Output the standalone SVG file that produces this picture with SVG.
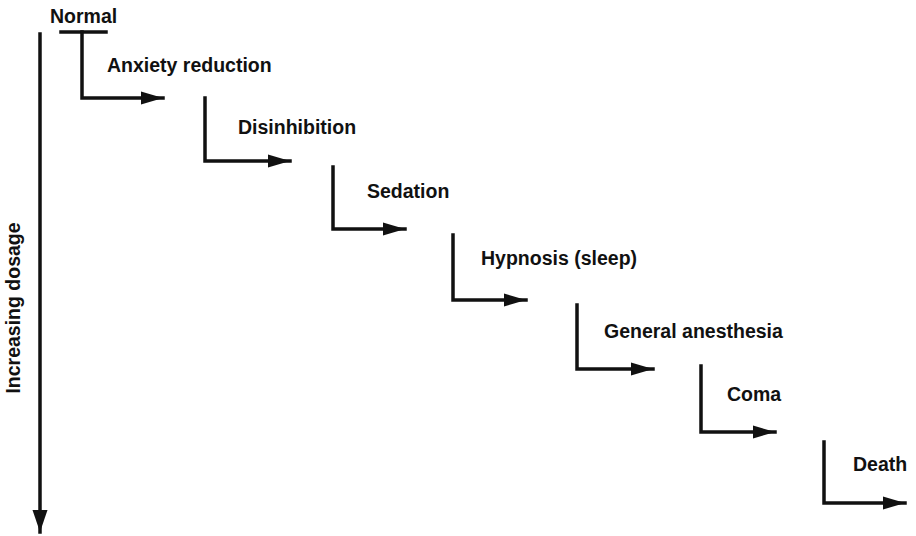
<svg xmlns="http://www.w3.org/2000/svg" width="916" height="536" viewBox="0 0 916 536">
<defs>
<style>
text{font-family:"Liberation Sans",Arial,sans-serif;font-weight:bold;font-size:19.5px;fill:#111}
.ln{fill:none;stroke:#111;stroke-width:3.5;stroke-linejoin:miter;stroke-linecap:square}
</style>
<marker id="ah" markerUnits="userSpaceOnUse" markerWidth="24" markerHeight="14" refX="22" refY="7" orient="auto" viewBox="0 0 24 14">
<path d="M0,0.5 L22,7 L0,13.5 Z" fill="#111"/>
</marker>
<marker id="ahb" markerUnits="userSpaceOnUse" markerWidth="24" markerHeight="16" refX="22" refY="8" orient="auto" viewBox="0 0 24 16">
<path d="M0,0.5 L22,8 L0,15.5 Z" fill="#111"/>
</marker>
</defs>
<rect width="916" height="536" fill="#fff"/>
<g id="axis">
<line class="ln" x1="40" y1="34" x2="40" y2="532" marker-end="url(#ahb)"/>
<text transform="translate(20,308) rotate(-90)" text-anchor="middle">Increasing dosage</text>
</g>
<g id="normal"><text x="50" y="23">Normal</text></g>
<g id="anxiety"><text x="107" y="72">Anxiety reduction</text></g>
<g id="disinhibition"><text x="238" y="134">Disinhibition</text></g>
<g id="sedation"><text x="367" y="198">Sedation</text></g>
<g id="hypnosis"><text x="481" y="265">Hypnosis (sleep)</text></g>
<g id="anesthesia"><text x="604" y="338">General anesthesia</text></g>
<g id="coma"><text x="727" y="401">Coma</text></g>
<g id="death"><text x="853" y="471">Death</text></g>
<g id="connectors">
<line class="ln" x1="61" y1="32" x2="106" y2="32"/>
<polyline class="ln" points="82,32 82,98 163,98" marker-end="url(#ah)"/>
<polyline class="ln" points="205,98 205,161 290,161" marker-end="url(#ah)"/>
<polyline class="ln" points="333,167 333,229 405,229" marker-end="url(#ah)"/>
<polyline class="ln" points="453,235 453,300 526,300" marker-end="url(#ah)"/>
<polyline class="ln" points="577,305 577,369 653,369" marker-end="url(#ah)"/>
<polyline class="ln" points="701,366 701,432 775,432" marker-end="url(#ah)"/>
<polyline class="ln" points="824,442 824,503 905,503" marker-end="url(#ah)"/>
</g>
</svg>
